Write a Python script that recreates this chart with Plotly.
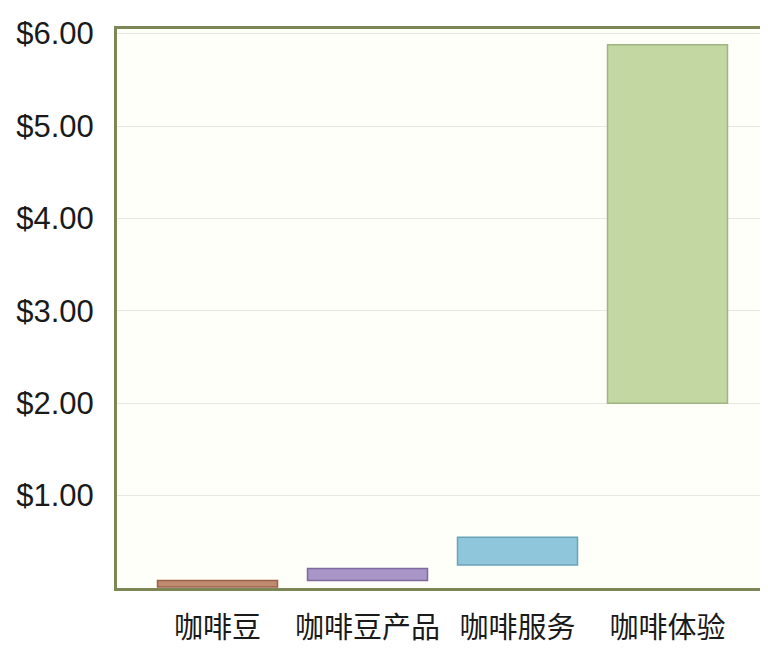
import plotly.graph_objects as go

categories = ["咖啡豆", "咖啡豆产品", "咖啡服务", "咖啡体验"]
bar_base = [0.01, 0.08, 0.25, 2.00]
bar_top = [0.08, 0.21, 0.55, 5.88]
tick_values = [1, 2, 3, 4, 5, 6]
tick_labels = ["$1.00", "$2.00", "$3.00", "$4.00", "$5.00", "$6.00"]

fill_colors = ["#c08a70", "#a996c6", "#8fc6dc", "#c3d7a3"]
line_colors = ["#9a6048", "#7e6a9e", "#6aa3b8", "#9fb384"]

heights = [t - b for t, b in zip(bar_top, bar_base)]

fig = go.Figure(
    go.Bar(
        x=list(range(len(categories))),
        y=heights,
        base=bar_base,
        width=0.8,
        marker=dict(color=fill_colors, line=dict(color=line_colors, width=1.5)),
        hoverinfo="skip",
    )
)

fig.update_layout(
    width=768,
    height=669,
    margin=dict(l=107, r=8, t=21, b=89),
    paper_bgcolor="white",
    plot_bgcolor="#fffffa",
    showlegend=False,
    font=dict(family="Noto Sans CJK SC, Noto Sans, sans-serif", color="#1a1a1a"),
    xaxis=dict(
        range=[-0.67, 3.65],
        tickvals=list(range(len(categories))),
        ticktext=categories,
        tickfont=dict(size=29),
        showgrid=False,
        zeroline=False,
        ticks="",
        ticklabelstandoff=12,
        showline=True,
        linecolor="#7d8657",
        linewidth=3,
        mirror=True,
    ),
    yaxis=dict(
        range=[0, 6.05],
        tickvals=tick_values,
        ticktext=tick_labels,
        tickfont=dict(size=31, family="Liberation Sans, Arial, sans-serif"),
        showgrid=True,
        gridcolor="#e8e8e2",
        gridwidth=1,
        zeroline=False,
        ticks="",
        ticklabelstandoff=14,
        showline=True,
        linecolor="#7d8657",
        linewidth=3,
        mirror=True,
    ),
)

fig.write_html("out.html")
